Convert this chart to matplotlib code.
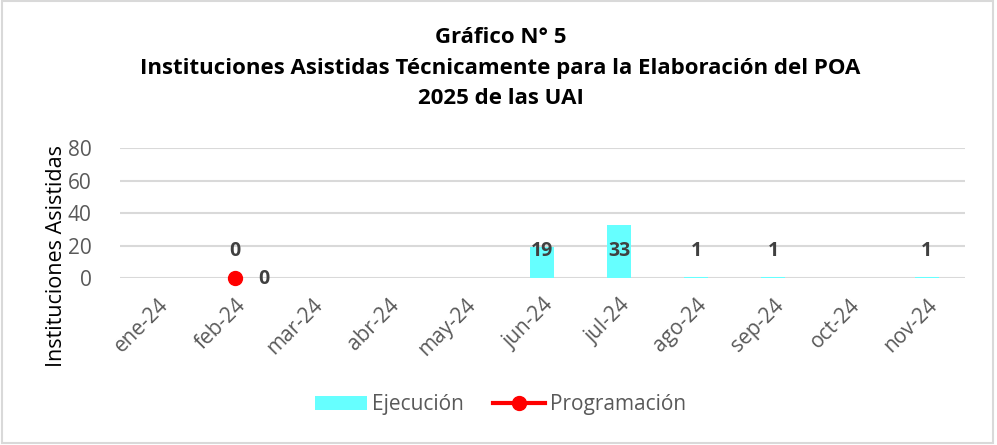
import numpy as np
import matplotlib
matplotlib.use("Agg")
import matplotlib.pyplot as plt
from matplotlib.lines import Line2D
from matplotlib.patches import Patch, Rectangle

# Data
months = ["ene-24", "feb-24", "mar-24", "abr-24", "may-24", "jun-24",
          "jul-24", "ago-24", "sep-24", "oct-24", "nov-24"]
ejecucion = [np.nan, 0, np.nan, np.nan, np.nan, 19, 33, 1, 1, np.nan, 1]
programacion = [np.nan, 0, np.nan, np.nan, np.nan, np.nan, np.nan,
                np.nan, np.nan, np.nan, np.nan]
y_ticks = [0, 20, 40, 60, 80]

TITLE = ("Gráfico N° 5\n"
         "Instituciones Asistidas Técnicamente para la Elaboración del POA\n"
         "2025 de las UAI")

CYAN = "#66FFFF"
RED = "#FF0000"
GRID = "#D9D9D9"
TEXT = "#595959"
LABEL = "#404040"

plt.rcParams["font.family"] = ["Open Sans", "DejaVu Sans"]

fig = plt.figure(figsize=(9.97, 4.45), dpi=100)
ax = fig.add_axes([0.120, 0.375, 0.848, 0.292])

x = np.arange(len(months))
ax.bar(x, ejecucion, width=0.31, color=CYAN, zorder=2)
ax.plot(x, programacion, color=RED, lw=3, marker="o", ms=10,
        zorder=4, clip_on=False)

# bar labels sit at a fixed height, as in the original
for xi, v in zip(x, ejecucion):
    if not np.isnan(v):
        ax.text(xi, 17, f"{v:.0f}", ha="center", va="center",
                fontsize=14, fontweight="bold", color=LABEL, zorder=5)
for xi, v in zip(x, programacion):
    if not np.isnan(v):
        ax.text(xi + 0.38, v - 0.5, f"{v:.0f}", ha="center", va="center",
                fontsize=14, fontweight="bold", color=LABEL, zorder=5)

ax.set_xlim(-0.5, len(months) - 0.5)
ax.set_ylim(0, 80)
ax.set_yticks(y_ticks)
ax.set_xticks(x)
ax.set_xticklabels(months, rotation=45, ha="right", rotation_mode="anchor")
ax.tick_params(axis="both", length=0, labelsize=15, labelcolor=TEXT)
ax.tick_params(axis="x", pad=12)
ax.tick_params(axis="y", pad=20)
ax.grid(axis="y", color=GRID, lw=1.5, zorder=0)
ax.set_axisbelow(True)
for s in ax.spines.values():
    s.set_visible(False)
ax.set_ylabel("Instituciones Asistidas", fontsize=15.5, color="black")
ax.yaxis.set_label_coords(-0.062, 0.17)

fig.text(0.502, 0.847, TITLE, ha="center", va="center", fontsize=16,
         fontweight="bold", linespacing=1.6)

handles = [Patch(facecolor=CYAN, edgecolor="none"),
           Line2D([], [], color=RED, lw=3, marker="o", ms=10)]
fig.legend(handles, ["Ejecución", "Programación"], loc="center",
           bbox_to_anchor=(0.502, 0.09), ncol=2, frameon=False, fontsize=15,
           labelcolor=TEXT, handlelength=2.5, handletextpad=0.25,
           columnspacing=1.4)

fig.patches.append(Rectangle((0.002, 0.004), 0.994, 0.993,
                             transform=fig.transFigure, fill=False,
                             edgecolor="#D9D9D9", lw=1.5))

fig.savefig("out.png", dpi=100)
